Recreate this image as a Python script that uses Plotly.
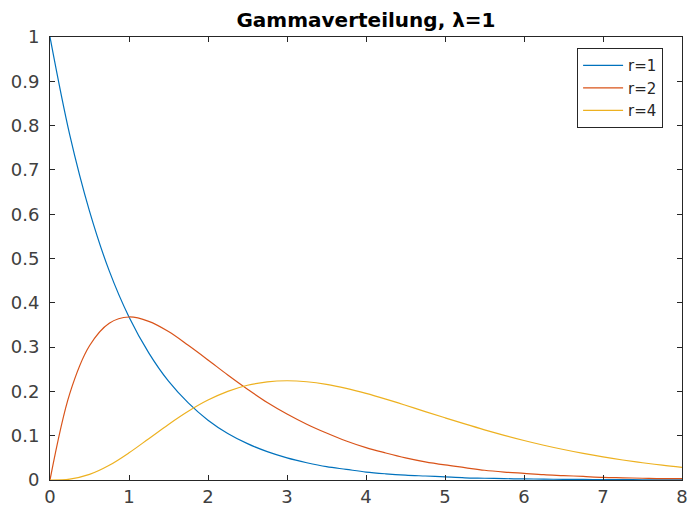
import plotly.graph_objects as go

# Gamma densities with lambda = 1, sampled every 0.25 on [0, 8]
x = [0.0, 0.25, 0.5, 0.75, 1.0, 1.25, 1.5, 1.75, 2.0, 2.25, 2.5, 2.75, 3.0,
     3.25, 3.5, 3.75, 4.0, 4.25, 4.5, 4.75, 5.0, 5.25, 5.5, 5.75, 6.0,
     6.25, 6.5, 6.75, 7.0, 7.25, 7.5, 7.75, 8.0]

r1 = [1.0, 0.779, 0.607, 0.472, 0.368, 0.287, 0.223, 0.174, 0.135, 0.105,
      0.082, 0.064, 0.050, 0.039, 0.030, 0.024, 0.018, 0.014, 0.011, 0.009,
      0.007, 0.005, 0.004, 0.003, 0.0025, 0.0019, 0.0015, 0.0012, 0.0009,
      0.0007, 0.0006, 0.0004, 0.0003]

r2 = [0.0, 0.195, 0.303, 0.354, 0.368, 0.358, 0.335, 0.304, 0.271, 0.237,
      0.205, 0.175, 0.149, 0.126, 0.106, 0.088, 0.073, 0.061, 0.050, 0.041,
      0.034, 0.028, 0.022, 0.018, 0.015, 0.012, 0.010, 0.008, 0.006, 0.005,
      0.004, 0.003, 0.003]

r4 = [0.0, 0.002, 0.0126, 0.0332, 0.0613, 0.0933, 0.1255, 0.1552, 0.1804,
      0.2001, 0.2138, 0.2215, 0.2240, 0.2218, 0.2158, 0.2067, 0.1954, 0.1825,
      0.1687, 0.1545, 0.1404, 0.1266, 0.1133, 0.1009, 0.0892, 0.0785, 0.0688,
      0.0600, 0.0521, 0.0451, 0.0389, 0.0334, 0.0286]

series = [("r=1", r1, "#0072BD"), ("r=2", r2, "#D95319"), ("r=4", r4, "#EDB120")]

x_ticks = [0, 1, 2, 3, 4, 5, 6, 7, 8]
y_ticks = [0, 0.1, 0.2, 0.3, 0.4, 0.5, 0.6, 0.7, 0.8, 0.9, 1]
y_tick_text = ["0", "0.1", "0.2", "0.3", "0.4", "0.5", "0.6", "0.7", "0.8", "0.9", "1"]

fig = go.Figure()
for name, y, color in series:
    fig.add_trace(go.Scatter(x=x, y=y, name=name, mode="lines",
                             line=dict(color=color, width=1.2, shape="spline")))

axis_style = dict(showline=True, linecolor="#262626", linewidth=1, mirror="ticks",
                  ticks="inside", ticklen=5, tickcolor="#262626", showgrid=False,
                  zeroline=False, automargin=False,
                  tickfont=dict(family="DejaVu Sans", size=18, color="#404040"))

fig.update_xaxes(range=[0, 8], tickvals=x_ticks, **axis_style)
fig.update_yaxes(range=[0, 1], tickvals=y_ticks, ticktext=y_tick_text,
                 ticklabelstandoff=6, **axis_style)

fig.update_layout(
    width=689, height=511,
    margin=dict(l=50, r=7, t=37, b=31),
    paper_bgcolor="white", plot_bgcolor="white",
    title=dict(text="<b>Gammaverteilung, λ=1</b>", x=0.5, xref="paper", xanchor="center",
               y=0.961, yref="container", yanchor="middle",
               font=dict(family="DejaVu Sans", size=20, color="black")),
    legend=dict(x=0.834, y=0.975, xanchor="left", yanchor="top",
                bgcolor="white", bordercolor="#262626", borderwidth=1,
                font=dict(family="DejaVu Sans", size=15, color="#262626"),
                tracegroupgap=0, itemwidth=40),
    showlegend=True,
)

fig.write_html("out.html")
